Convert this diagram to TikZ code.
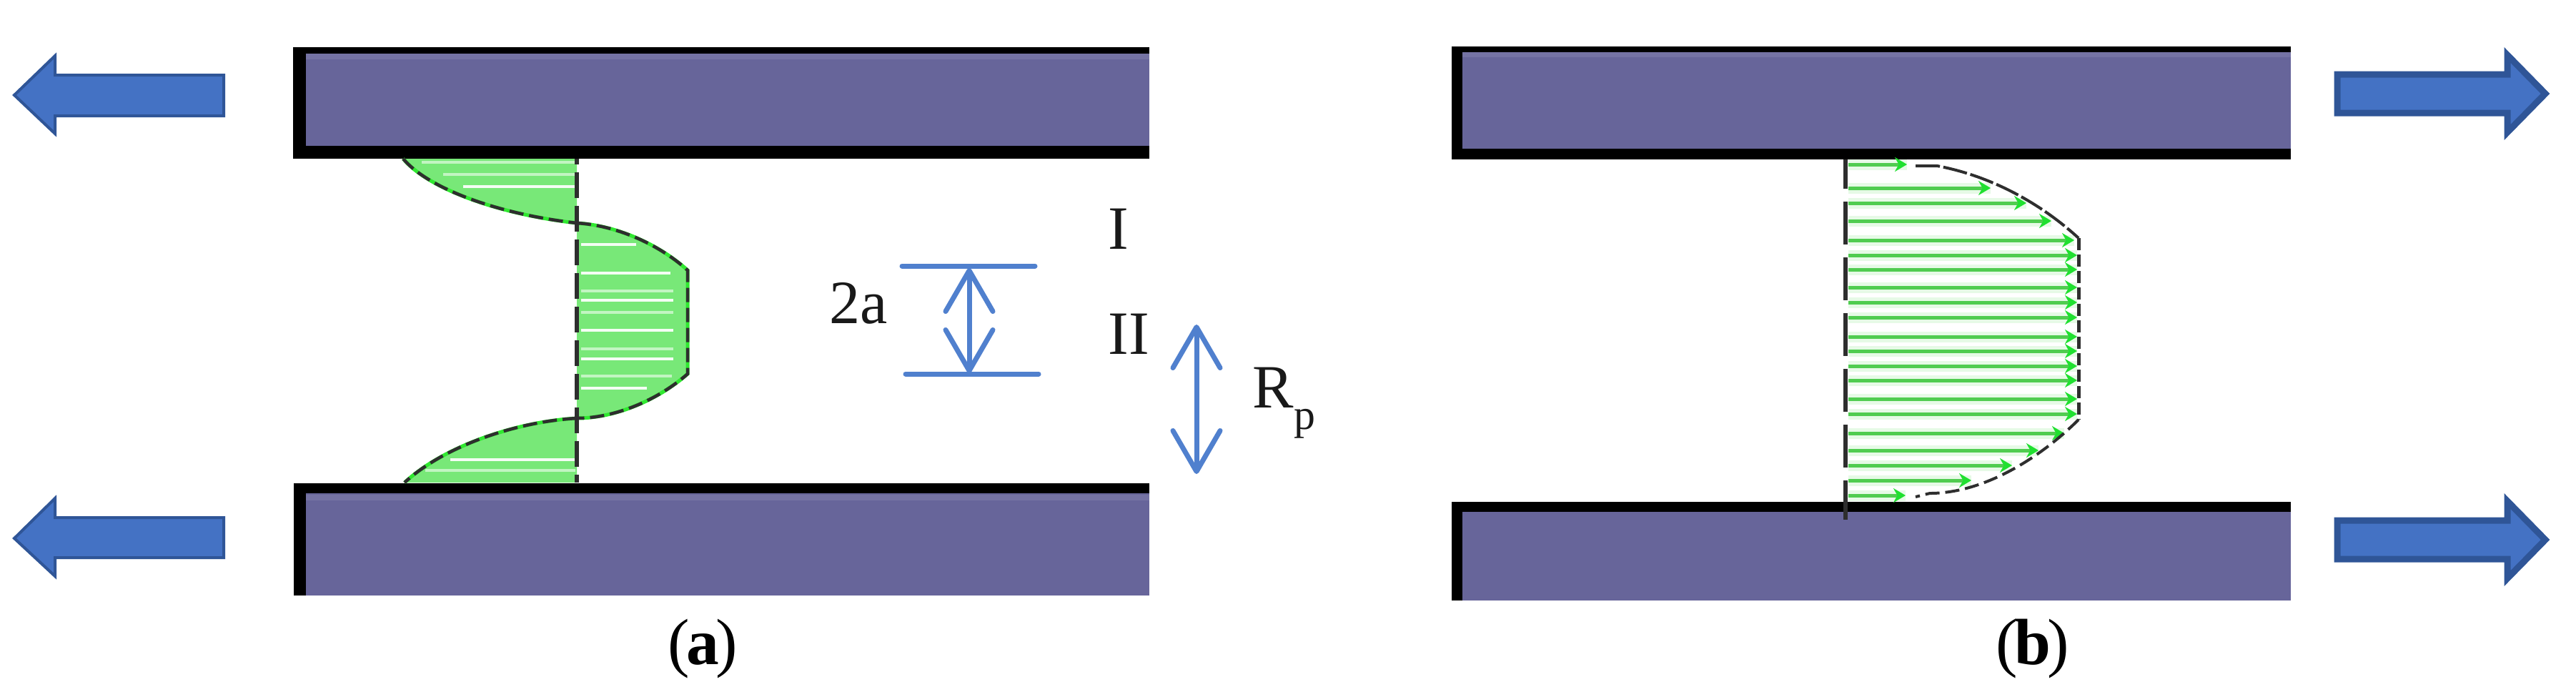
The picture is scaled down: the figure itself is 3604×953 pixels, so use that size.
\documentclass[tikz,border=0pt]{standalone}
\usepackage{fontspec}
\setmainfont{Liberation Serif}
\usetikzlibrary{arrows.meta}
\definecolor{plate}{HTML}{67659A}
\definecolor{plateedge}{HTML}{7573A4}
\definecolor{bluefill}{HTML}{4472C4}
\definecolor{blueedge}{HTML}{2F5597}
\definecolor{dimblue}{HTML}{5080CE}
\definecolor{lobe}{HTML}{78E878}
\definecolor{lobeedge}{HTML}{30E830}
\definecolor{vel}{HTML}{50CC50}
\definecolor{velhalo}{HTML}{E6FAE6}
\definecolor{veltip}{HTML}{20E030}
\definecolor{dashink}{HTML}{2E2E2E}
\tikzset{
  platefill/.style={fill=plate,draw=none},
  plateband/.style={fill=plateedge,draw=none},
  plateline/.style={fill=black,draw=none},
  flowA/.style={fill=bluefill,draw=blueedge,line width=.04cm,line join=miter},
  flowB/.style={fill=bluefill,draw=blueedge,line width=.09cm,line join=miter,miter limit=10},
  dimline/.style={draw=dimblue,line width=.07cm,line cap=round},
  dimarrow/.style={dimline,{Straight Barb[round,length=.57cm,width=.66cm,line width=.07cm]}-{Straight Barb[round,length=.57cm,width=.66cm,line width=.07cm]}},
  labeltext/.style={inner sep=0pt,anchor=base west,font=\fontsize{24.5}{30}\selectfont,text=black!90},
  captext/.style={inner sep=0pt,anchor=base,font=\fontsize{26}{30}\selectfont},
  lobefill/.style={fill=lobe,draw=none},
  lobeoutline/.style={draw=lobeedge,line width=.05cm},
  lobecurve/.style={draw=dashink,line width=.045cm,dash pattern=on .2cm off .08cm},
  basedash/.style={draw=dashink,line width=.06cm,dash pattern=on .36cm off .11cm,dash phase=.28cm},
  basedashb/.style={draw=dashink,line width=.055cm,dash pattern=on .6cm off .18cm,dash phase=.19cm},
  stripe/.style={draw=white!92!lobe,line width=.045cm},
  faint/.style={draw=white!55!lobe,line width=.04cm},
  velhaloline/.style={draw=velhalo,line width=.15cm},
  velline/.style={draw=vel,line width=.05cm,-{Stealth[length=.17cm,width=.2cm,color=veltip]}},
  lobeTop/.style={insert path={(564,222) .. controls (600,265) and (700,300) .. (807,312)}},
  lobeMid/.style={insert path={(807,312) .. controls (860,315) and (920,340) .. (962,378) -- (962,523) .. controls (920,560) and (860,585) .. (807,585)}},
  lobeBot/.style={insert path={(807,585) .. controls (720,590) and (620,625) .. (566,675)}},
}
\begin{document}
\begin{tikzpicture}[x=.01cm,y=-.01cm]
\useasboundingbox (0,0) rectangle (3604,953);
\fill[white] (0,0) rectangle (3604,953);

% ---- plates (a)
\path[plateline] (410,66) rectangle (1608,222);
\path[platefill] (428,75) rectangle (1608,204);
\path[plateband] (428,75) rectangle (1608,83);
\path[plateline] (411,676) rectangle (1608,690);
\path[plateline] (411,676) rectangle (428,833);
\path[platefill] (428,690) rectangle (1608,833);
\path[plateband] (428,692) rectangle (1608,700);

% ---- plates (b)
\path[plateline] (2031,65) rectangle (3205,223);
\path[platefill] (2046,73) rectangle (3205,208);
\path[plateband] (2046,73) rectangle (3205,80);
\path[plateline] (2031,702) rectangle (3205,716);
\path[plateline] (2031,702) rectangle (2046,840);
\path[platefill] (2046,716) rectangle (3205,840);

% ---- large flow arrows
\path[flowA] (20,133) -- (77,78) -- (77,105) -- (313,105) -- (313,162) -- (77,162) -- (77,187) -- cycle;
\path[flowA] (20,753) -- (77,697) -- (77,724) -- (313,724) -- (313,780) -- (77,780) -- (77,806) -- cycle;
\path[flowB] (3270,104) -- (3508,104) -- (3508,77) -- (3561,131) -- (3508,185) -- (3508,158) -- (3270,158) -- cycle;
\path[flowB] (3270,728) -- (3508,728) -- (3508,701) -- (3561,755) -- (3508,809) -- (3508,782) -- (3270,782) -- cycle;

% ---- velocity lobes (a)
\path[lobefill,lobeTop] -- (807,222) -- cycle;
\path[lobefill,lobeMid] -- cycle;
\path[lobefill,lobeBot] -- (807,675) -- cycle;
\path[faint] (590,227) -- (805,227);
\path[faint] (620,244) -- (805,244);
\path[stripe] (648,261) -- (805,261);
\path[stripe] (813,342) -- (890,342);
\path[stripe] (813,382) -- (938,382);
\path[faint] (813,407) -- (942,407);
\path[stripe] (813,420) -- (942,420);
\path[faint] (813,437) -- (942,437);
\path[stripe] (813,462) -- (942,462);
\path[faint] (813,488) -- (942,488);
\path[stripe] (813,502) -- (942,502);
\path[faint] (813,526) -- (940,526);
\path[stripe] (813,543) -- (905,543);
\path[stripe] (630,643) -- (805,643);
\path[faint] (595,658) -- (805,658);
\path[lobeoutline,lobeTop];
\path[lobeoutline,lobeMid];
\path[lobeoutline,lobeBot];
\path[lobecurve,lobeTop];
\path[lobecurve,lobeMid];
\path[lobecurve,lobeBot];
\coordinate (baseAtop) at (807,222);
\coordinate (baseAbot) at (807,675);
\path[basedash] (baseAtop) -- (baseAbot);

% ---- velocity profile (b)
\foreach \yy/\xx in {230/2668,263/2785,284/2835,309/2870,336/2902,357/2906,377/2906,402/2906,423/2906,444/2906,471/2906,491/2906,512/2906,532/2906,558/2906,579/2906,606/2888,630/2852,651/2815,672/2758,693/2666}{
  \path[velhaloline] (2586,\yy) -- (\xx,\yy);
}
\foreach \yy/\xx in {230/2668,263/2785,284/2835,309/2870,336/2902,357/2906,377/2906,402/2906,423/2906,444/2906,471/2906,491/2906,512/2906,532/2906,558/2906,579/2906,606/2888,630/2852,651/2815,672/2758,693/2666}{
  \coordinate (vs\yy) at (2586,\yy);
  \coordinate (ve\yy) at (\xx,\yy);
  \path[velline] (vs\yy) -- (ve\yy);
}
\path[draw=dashink,line width=.04cm,dash pattern=on .34cm off .05cm]
  (2680,232) -- (2710,232) .. controls (2780,245) and (2850,280) .. (2908,333);
\path[draw=dashink,line width=.05cm,dash pattern=on .17cm off .06cm] (2908,333) -- (2908,587);
\path[draw=dashink,line width=.04cm,dash pattern=on .2cm off .08cm]
  (2908,587) .. controls (2860,635) and (2780,690) .. (2700,690) -- (2680,695);
\coordinate (baseBtop) at (2582,223);
\coordinate (baseBbot) at (2582,727);
\path[basedashb] (baseBtop) -- (baseBbot);

% ---- dimension marks
\coordinate (twoAtopL) at (1262,372);
\coordinate (twoAtopR) at (1448,372);
\coordinate (twoAbotL) at (1267,523);
\coordinate (twoAbotR) at (1453,523);
\coordinate (twoAup) at (1356,375);
\coordinate (twoAdn) at (1356,522);
\coordinate (rpUp) at (1674,454);
\coordinate (rpDn) at (1674,663);
\path[dimline] (twoAtopL) -- (twoAtopR);
\path[dimline] (twoAbotL) -- (twoAbotR);
\path[dimarrow] (twoAup) -- (twoAdn);
\path[dimarrow] (rpUp) -- (rpDn);

% ---- labels
\node[labeltext] (lblTwoA) at (1160,452) {2a};
\node[labeltext] (lblI) at (1550,348) {I};
\node[labeltext] (lblII) at (1550,495) {II};
\node[labeltext] (lblRp) at (1752,570) {R\raisebox{-.3cm}{\fontsize{17}{20}\selectfont p}};
\node[captext] (capA) at (983,929) {(\kern-.05em\textbf{a}\kern-.05em)};
\node[captext] (capB) at (2844,929) {(\kern-.05em\textbf{b}\kern-.05em)};
\end{tikzpicture}
\end{document}
